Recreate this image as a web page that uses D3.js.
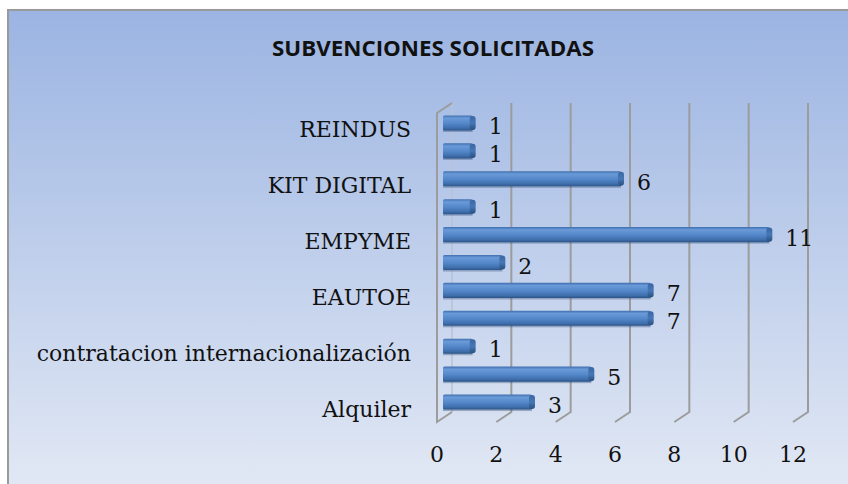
<!DOCTYPE html>
<meta charset="utf-8">
<style>
  body { margin: 0; background: #fff; }
  svg { display: block; }
  .serif { font-family: "DejaVu Serif", serif; font-size: 22px; fill: #111; }
</style>
<body></body>
<script src="https://cdn.jsdelivr.net/npm/d3@7"></script>
<script>
  const width = 848
  const height = 484

  // top to bottom, as drawn; only every other category shows its label
  const categories = ["REINDUS", "", "KIT DIGITAL", "", "EMPYME", "", "EAUTOE ", "",
    "contratacion internacionalización", "", "Alquiler"]
  const values = [1, 1, 6, 1, 11, 2, 7, 7, 1, 5, 3]
  const ticks = [0, 2, 4, 6, 8, 10, 12]
  const title = "SUBVENCIONES SOLICITADAS"

  const depthX = 15, depthY = -10

  const svg = d3.select("body").append("svg")
    .attr("width", width)
    .attr("height", height)

  const defs = svg.append("defs")
  const bg = defs.append("linearGradient").attr("id", "bg")
    .attr("x1", 0).attr("y1", 0).attr("x2", 0).attr("y2", 1)
  bg.append("stop").attr("offset", "0%").attr("stop-color", "#9bb4e2")
  bg.append("stop").attr("offset", "100%").attr("stop-color", "#e4eaf5")

  const barGrad = defs.append("linearGradient").attr("id", "bar")
    .attr("x1", 0).attr("y1", 0).attr("x2", 0).attr("y2", 1)
  barGrad.append("stop").attr("offset", "0%").attr("stop-color", "#3f6fae")
  barGrad.append("stop").attr("offset", "18%").attr("stop-color", "#6a9ad8")
  barGrad.append("stop").attr("offset", "55%").attr("stop-color", "#5286c8")
  barGrad.append("stop").attr("offset", "85%").attr("stop-color", "#3e6dab")
  barGrad.append("stop").attr("offset", "100%").attr("stop-color", "#2d5486")

  const capGrad = defs.append("linearGradient").attr("id", "cap")
    .attr("x1", 0).attr("y1", 0).attr("x2", 0).attr("y2", 1)
  capGrad.append("stop").attr("offset", "0%").attr("stop-color", "#3a67a2")
  capGrad.append("stop").attr("offset", "50%").attr("stop-color", "#4777b6")
  capGrad.append("stop").attr("offset", "100%").attr("stop-color", "#29507f")

  // chart area frame
  svg.append("rect")
    .attr("x", 8).attr("y", 10)
    .attr("width", width + 10).attr("height", height + 10)
    .attr("fill", "url(#bg)")
    .attr("stroke", "#9a9a9a")
    .attr("stroke-width", 2)

  svg.append("text")
    .attr("x", 272).attr("y", 56)
    .attr("textLength", 322)
    .attr("lengthAdjust", "spacingAndGlyphs")
    .attr("font-family", "'Open Sans', sans-serif")
    .attr("font-weight", "bold")
    .attr("font-size", 22)
    .attr("fill", "#111")
    .text(title)

  // front scale (tick labels); back plane is shifted by depth
  const x = d3.scaleLinear().domain([0, 12]).range([437, 793])
  const y = d3.scaleBand().domain(d3.range(values.length)).range([109, 416]).paddingInner(0.46).paddingOuter(0.23)

  const floorY = 422
  const topY = 113

  // gridlines with 3D floor tick
  const grid = svg.append("g")
  grid.selectAll("path.grid")
    .data(ticks.slice(1))
    .join("path")
    .attr("class", "grid")
    .attr("d", d => `M${x(d) + depthX},${topY + depthY}V${floorY + depthY}L${x(d)},${floorY}`)
    .attr("fill", "none")
    .attr("stroke", "#9c9c9c")
    .attr("stroke-width", 2)

  // left wall
  grid.append("path")
    .attr("d", `M${x(0) + depthX},${topY + depthY}V${floorY + depthY}`)
    .attr("fill", "none")
    .attr("stroke", "#b8c2d2")
    .attr("stroke-width", 1.5)
  grid.append("path")
    .attr("d", `M${x(0) + depthX},${topY + depthY}L${x(0)},${topY}V${floorY}L${x(0) + depthX},${floorY + depthY}`)
    .attr("fill", "none")
    .attr("stroke", "#9c9c9c")
    .attr("stroke-width", 2)

  // bars
  const barX0 = x(0) + 6
  const bars = svg.append("g").selectAll("g")
    .data(values)
    .join("g")

  bars.append("rect")
    .attr("x", barX0)
    .attr("y", (d, i) => y(i) + 1.5)
    .attr("width", d => x(d) - x(0))
    .attr("height", y.bandwidth())
    .attr("fill", "#27466f")
    .attr("opacity", 0.35)

  bars.append("rect")
    .attr("x", barX0)
    .attr("y", (d, i) => y(i))
    .attr("width", d => x(d) - x(0))
    .attr("height", y.bandwidth())
    .attr("rx", 1.5)
    .attr("fill", "url(#bar)")

  bars.append("rect")
    .attr("x", d => barX0 + x(d) - x(0) - 3)
    .attr("y", (d, i) => y(i) + 0.5)
    .attr("width", 6)
    .attr("height", y.bandwidth() - 1)
    .attr("rx", 3)
    .attr("fill", "url(#cap)")

  // value labels
  svg.append("g").selectAll("text")
    .data(values)
    .join("text")
    .attr("class", "serif")
    .attr("x", d => x(d) + 6 + 16)
    .attr("y", (d, i) => y(i) + y.bandwidth() / 2 + 11)
    .text(d => d)

  // category labels
  svg.append("g").selectAll("text")
    .data(categories)
    .join("text")
    .attr("class", "serif")
    .attr("text-anchor", "end")
    .attr("x", 411)
    .attr("y", (d, i) => y(i) + y.bandwidth() / 2 + 14.5)
    .text(d => d)

  // x axis tick labels
  svg.append("g").selectAll("text")
    .data(ticks)
    .join("text")
    .attr("class", "serif")
    .attr("text-anchor", "middle")
    .attr("x", d => x(d))
    .attr("y", 462)
    .text(d => d)
</script>
